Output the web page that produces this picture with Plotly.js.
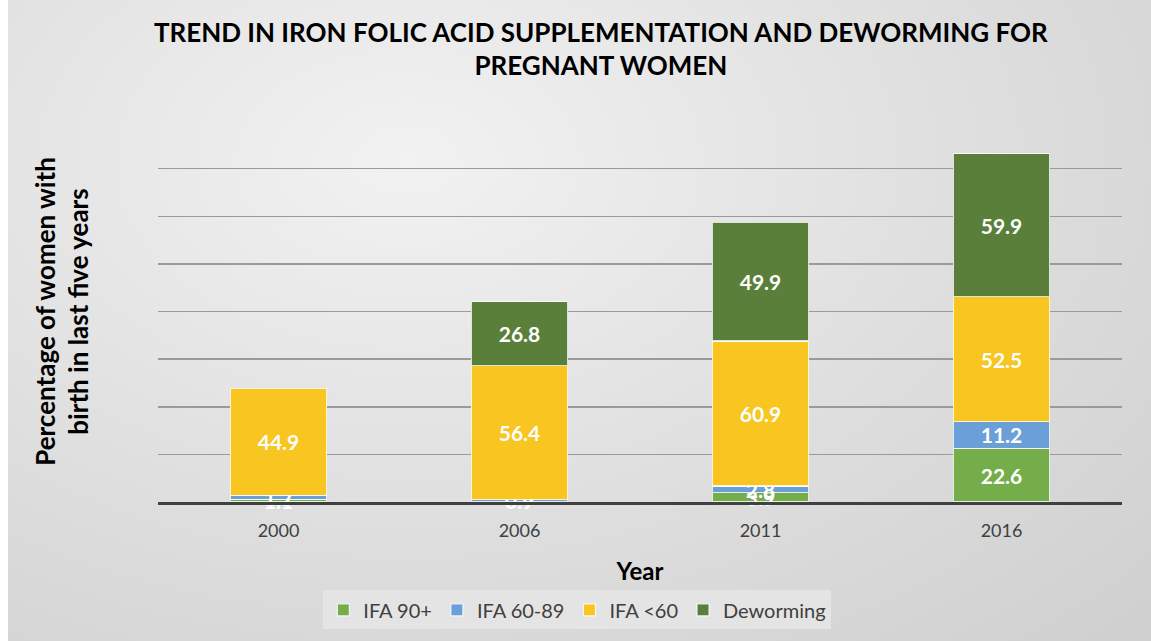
<!DOCTYPE html>
<html>
<head>
<meta charset="utf-8">
<script src="https://cdn.plot.ly/plotly-3.0.1.min.js"></script>
<style>
  html, body { margin: 0; padding: 0; background: #ffffff; }
  #wrap { position: absolute; left: 8px; top: 0; width: 1143px; height: 641px;
          background: radial-gradient(ellipse at 35% 25%, #f2f2f2 0%, #dedede 55%, #cfcfcf 100%); }
  #chart { position: absolute; left: -8px; top: 0; width: 1151px; height: 641px; }
</style>
</head>
<body>
<div id="wrap"><div id="chart"></div></div>
<script>
const years = ['2000', '2006', '2011', '2016'];
const ifa90 = [1.1, null, 3.9, 22.6];
const ifa6089 = [1.7, 0.9, 2.8, 11.2];
const ifaLt60 = [44.9, 56.4, 60.9, 52.5];
const deworming = [null, 26.8, 49.9, 59.9];
const seriesNames = ['IFA 90+', 'IFA 60-89', 'IFA <60', 'Deworming'];
const seriesColors = ['#74ad4a', '#6a9fd8', '#f8c521', '#5a7f3a'];
const seriesValues = [ifa90, ifa6089, ifaLt60, deworming];

const traces = seriesValues.map((vals, i) => ({
  type: 'bar',
  name: seriesNames[i],
  x: years,
  y: vals,
  marker: { color: seriesColors[i], line: { color: 'rgba(255,255,255,0.8)', width: 1.2 } },
  text: vals.map(v => v == null ? '' : v.toFixed(1)),
  textposition: 'inside',
  insidetextanchor: 'middle',
  textangle: 0,
  textfont: { family: 'Lato, "Open Sans", sans-serif', size: 21, color: '#ffffff', weight: 'bold' },
  cliponaxis: false,
  hoverinfo: 'x+y+name'
}));

const layout = {
  width: 1151, height: 641,
  barmode: 'stack',
  bargap: 0.6,
  paper_bgcolor: 'rgba(0,0,0,0)',
  plot_bgcolor: 'rgba(0,0,0,0)',
  margin: { l: 158, r: 29, t: 121, b: 139 },
  uniformtext: { minsize: 21, mode: 'show' },
  title: {
    text: 'TREND IN IRON FOLIC ACID SUPPLEMENTATION AND DEWORMING FOR<br>PREGNANT WOMEN',
    font: { family: 'Lato, "Open Sans", sans-serif', size: 26, color: '#000000', weight: 'bold' },
    x: 0.522, xanchor: 'center', y: 0.935, yanchor: 'top'
  },
  xaxis: {
    type: 'category',
    showgrid: false,
    showline: true, linecolor: '#404040', linewidth: 3,
    ticks: '',
    tickfont: { family: 'Lato, "Open Sans", sans-serif', size: 18, color: '#404040' },
    ticklabelstandoff: 10,
    title: { text: 'Year', font: { family: 'Lato, "Open Sans", sans-serif', size: 24, color: '#000000', weight: 'bold' }, standoff: 24 }
  },
  yaxis: {
    range: [0, 160],
    dtick: 20,
    showticklabels: false,
    ticks: '',
    showgrid: true, gridcolor: '#9a9a9a', gridwidth: 1.5,
    zeroline: false,
    showline: false,
    title: { text: 'Percentage of women with<br>birth in last five years',
             font: { family: 'Lato, "Open Sans", sans-serif', size: 26, color: '#000000', weight: 'bold' }, standoff: 60 }
  },
  showlegend: true,
  legend: {
    orientation: 'h',
    x: 0.435, xanchor: 'center',
    y: -0.283, yanchor: 'middle',
    bgcolor: '#e4e4e4',
    font: { family: 'Lato, "Open Sans", sans-serif', size: 20, color: '#404040' },
    traceorder: 'normal',
    itemwidth: 30
  }
};

Plotly.newPlot('chart', traces, layout, { displayModeBar: false, staticPlot: true });
</script>
</body>
</html>
